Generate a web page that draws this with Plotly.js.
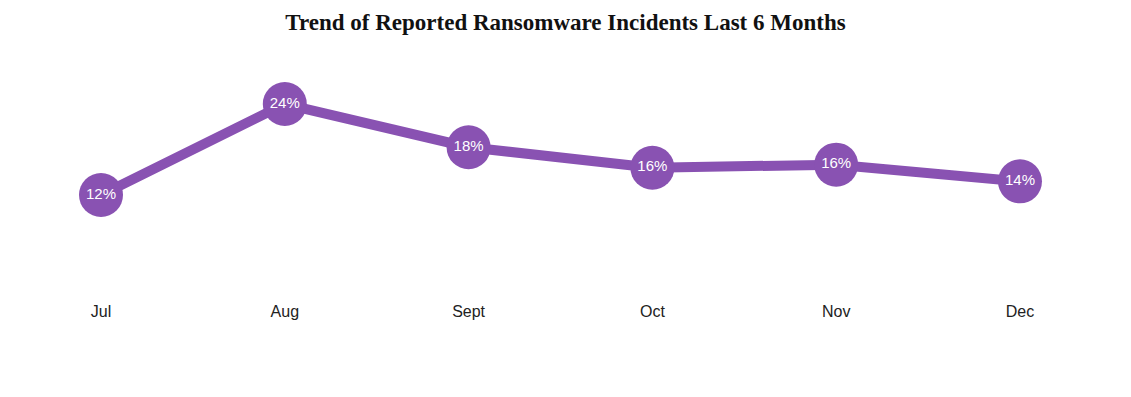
<!DOCTYPE html>
<html>
<head>
<meta charset="utf-8">
<script src="https://cdn.plot.ly/plotly-3.0.1.min.js"></script>
<style>html,body{margin:0;padding:0;background:#fff;}#chart{width:1131px;height:397px;}</style>
</head>
<body>
<div id="chart"></div>
<script>
const months = ["Jul", "Aug", "Sept", "Oct", "Nov", "Dec"];
const incidentPct = [12, 24, 18.3, 15.6, 16.0, 13.8];
const pctLabels = ["12%", "24%", "18%", "16%", "16%", "14%"];

const purple = "#8952b2";

const trace = {
  x: months,
  y: incidentPct,
  type: "scatter",
  mode: "lines+markers+text",
  line: {color: purple, width: 10},
  marker: {color: purple, size: 44},
  text: pctLabels,
  textposition: "middle center",
  textfont: {family: "Liberation Sans, Arial, sans-serif", size: 15, color: "#ffffff"},
  hoverinfo: "skip",
  cliponaxis: false
};

const layout = {
  width: 1131,
  height: 397,
  margin: {l: 50, r: 50, t: 50, b: 102},
  paper_bgcolor: "#ffffff",
  plot_bgcolor: "#ffffff",
  showlegend: false,
  title: {
    text: "<b>Trend of Reported Ransomware Incidents Last 6 Months</b>",
    font: {family: "Liberation Serif, serif", size: 23, color: "#111111"},
    x: 0.5,
    xanchor: "center",
    y: 0.945,
    yanchor: "middle"
  },
  xaxis: {
    type: "category",
    range: [-0.2775, 5.332],
    showgrid: false,
    zeroline: false,
    showline: false,
    ticks: "",
    ticklabelstandoff: 5,
    tickfont: {family: "Liberation Sans, Arial, sans-serif", size: 16, color: "#222222"}
  },
  yaxis: {
    range: [-1.186, 31.124],
    visible: false,
    showgrid: false,
    zeroline: false
  }
};

Plotly.newPlot("chart", [trace], layout, {displayModeBar: false, staticPlot: true});
</script>
</body>
</html>
